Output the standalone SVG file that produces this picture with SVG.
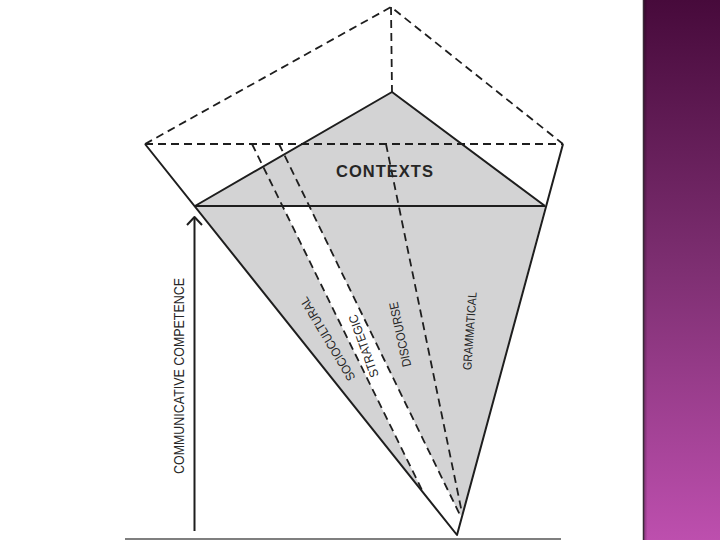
<svg xmlns="http://www.w3.org/2000/svg" width="720" height="540" viewBox="0 0 720 540">
  <defs>
    <linearGradient id="barGrad" x1="0" y1="0" x2="0" y2="1">
      <stop offset="0" stop-color="#470a3b"/>
      <stop offset="0.5" stop-color="#7e2f72"/>
      <stop offset="1" stop-color="#bd4fae"/>
    </linearGradient>
    <linearGradient id="barShade" x1="0" y1="0" x2="1" y2="0">
      <stop offset="0" stop-color="#000" stop-opacity="0.35"/>
      <stop offset="0.06" stop-color="#000" stop-opacity="0"/>
    </linearGradient>
  </defs>
  <style>
    .fill { fill: #d3d3d4; stroke: none; }
    .solid { fill: none; stroke: #1e1e1e; stroke-width: 2; stroke-linejoin: round; }
    .dash { fill: none; stroke: #1e1e1e; stroke-width: 1.8; stroke-dasharray: 8 5; }
    .lbl { font-family: "Liberation Sans", Arial, sans-serif; fill: #262626; text-anchor: middle; }
  </style>
  <rect width="720" height="540" fill="#ffffff"/>

  <g id="side-bar">
    <rect x="643" y="0" width="77" height="540" fill="url(#barGrad)"/>
    <rect x="643" y="0" width="77" height="540" fill="url(#barShade)"/>
    <line x1="643.5" y1="0" x2="643.5" y2="540" stroke="#3b2a38" stroke-width="1.5"/>
  </g>

  <g id="pyramid-fill">
    <polygon class="fill" points="195,206 392,92 545,206"/>
    <polygon class="fill" points="195,206 282.5,206 422,490"/>
    <polygon class="fill" points="309,206 545,206 463,514 460,515"/>
  </g>

  <g id="connectors">
    <polyline class="dash" points="145,144 391,7 563,144"/>
    <line class="dash" x1="145" y1="144" x2="563" y2="144"/>
    <line class="dash" x1="391" y1="7" x2="392" y2="92"/>
    <line class="dash" x1="252" y1="144" x2="422" y2="490"/>
    <line class="dash" x1="279" y1="144" x2="460" y2="515"/>
    <line class="dash" x1="386" y1="144" x2="462" y2="513"/>
    <polyline class="solid" points="195,206 392,92 545,206"/>
    <line class="solid" x1="195" y1="206" x2="545" y2="206"/>
    <polyline class="solid" points="145,144 457,535 563,144"/>
    <line class="solid" x1="194.5" y1="531" x2="194.5" y2="218"/>
    <polyline class="solid" points="187,225 194.5,217 202,225" stroke-width="1.8"/>
    <line x1="125" y1="539" x2="561" y2="539" stroke="#555555" stroke-width="1.5"/>
  </g>

  <g id="labels">
    <text class="lbl" x="385" y="177" font-size="16.5" font-weight="bold" letter-spacing="1">CONTEXTS</text>
    <text class="lbl" font-size="14.5" textLength="196" lengthAdjust="spacingAndGlyphs" transform="translate(178.5,376) rotate(-90)" dy="0.36em">COMMUNICATIVE COMPETENCE</text>
    <text class="lbl" font-size="12.5" textLength="95" lengthAdjust="spacingAndGlyphs" transform="translate(327.5,339) rotate(-121)" dy="0.36em">SOCIOCULTURAL</text>
    <text class="lbl" font-size="12.5" textLength="66" lengthAdjust="spacingAndGlyphs" transform="translate(363.5,346) rotate(-110)" dy="0.36em">STRATEGIC</text>
    <text class="lbl" font-size="12.5" textLength="66" lengthAdjust="spacingAndGlyphs" transform="translate(400,334.5) rotate(-102)" dy="0.36em">DISCOURSE</text>
    <text class="lbl" font-size="12.2" textLength="78" lengthAdjust="spacingAndGlyphs" transform="translate(469.5,331) rotate(-86)" dy="0.36em">GRAMMATICAL</text>
  </g>
</svg>
